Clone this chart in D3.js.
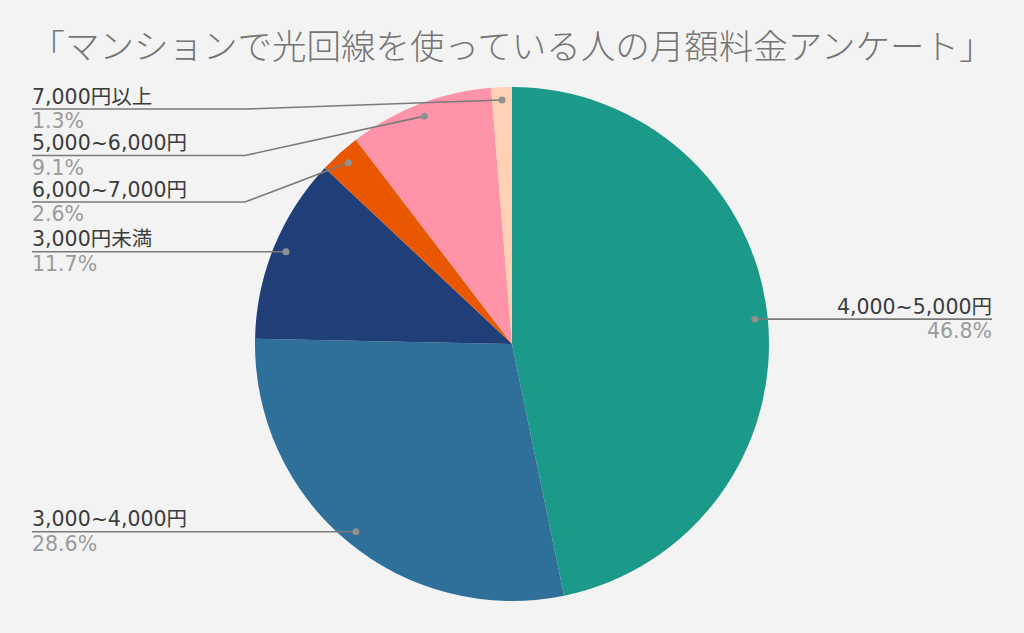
<!DOCTYPE html>
<html lang="ja">
<head>
<meta charset="utf-8">
<script src="https://cdn.jsdelivr.net/npm/d3@7"></script>
<style>
  html, body { margin: 0; padding: 0; background: #f3f3f3; }
  svg { display: block; }
</style>
</head>
<body>
<svg id="chart" width="1024" height="633"></svg>
<script>
// Monthly fibre-line fee survey, apartment residents (%)
const categories = ["4,000~5,000円", "3,000~4,000円", "3,000円未満", "6,000~7,000円", "5,000~6,000円", "7,000円以上"];
const shares     = [46.8, 28.6, 11.7, 2.6, 9.1, 1.3];
const colors     = ["#1b9a8a", "#2e7099", "#203f78", "#e95700", "#ff94a9", "#ffd0b4"];
const title      = "「マンションで光回線を使っている人の月額料金アンケート」";

const W = 1024, H = 633;
const cx = 512, cy = 344, R = 257;
const svg = d3.select("#chart");

svg.append("rect").attr("width", W).attr("height", H).attr("fill", "#f3f3f3");

svg.append("text")
  .attr("x", 512).attr("y", 59)
  .attr("text-anchor", "middle")
  .attr("font-family", "'Noto Sans CJK JP', sans-serif")
  .attr("font-weight", 300)
  .attr("font-size", 34.5)
  .attr("fill", "#757575")
  .text(title);

const data = categories.map((c, i) => ({ name: c, value: shares[i], color: colors[i] }));

const pie = d3.pie().value(d => d.value).sort(null);
const arcs = pie(data);
const arc = d3.arc().innerRadius(0).outerRadius(R);
const dotArc = d3.arc().innerRadius(R * 0.95).outerRadius(R * 0.95);

const g = svg.append("g").attr("transform", `translate(${cx},${cy})`);
g.selectAll("path.slice")
  .data(arcs)
  .join("path")
  .attr("class", "slice")
  .attr("d", arc)
  .attr("fill", d => d.data.color);

// Leader-label layout: right side labels end at the right margin,
// left side labels are stacked top-down so they never overlap.
const leftX = 32, rightX = 992, elbowX = 245, spacing = 46.5, topY = 109;
const items = arcs.map(a => {
  const [x, y] = dotArc.centroid(a);
  const mid = (a.startAngle + a.endAngle) / 2;
  return { a, dx: cx + x, dy: cy + y, right: mid < Math.PI };
});

const left = items.filter(d => !d.right).sort((p, q) => p.dy - q.dy);
let prev = topY - spacing;
left.forEach(d => { d.ly = Math.max(d.dy, prev + spacing); prev = d.ly; });
items.filter(d => d.right).forEach(d => { d.ly = d.dy; });

const lab = svg.append("g");
items.forEach(d => {
  let pts;
  if (d.right) {
    pts = [[d.dx, d.dy], [rightX, d.ly]];
  } else if (Math.abs(d.ly - d.dy) < 1) {
    pts = [[d.dx, d.dy], [leftX, d.ly]];
  } else {
    pts = [[d.dx, d.dy], [elbowX, d.ly], [leftX, d.ly]];
  }
  lab.append("path")
    .attr("d", d3.line()(pts))
    .attr("fill", "none")
    .attr("stroke", "#7a7a7a")
    .attr("stroke-width", 1.6);
  lab.append("circle")
    .attr("cx", d.dx).attr("cy", d.dy).attr("r", 3.5)
    .attr("fill", "#909090");

  const tx = d.right ? rightX : leftX;
  const anchor = d.right ? "end" : "start";
  lab.append("text")
    .attr("x", tx).attr("y", d.ly - 5.5)
    .attr("text-anchor", anchor)
    .attr("font-family", "'DejaVu Sans', 'Noto Sans CJK JP', sans-serif")
    .attr("font-size", 20.5)
    .attr("fill", "#3c3c3c")
    .text(d.a.data.name);
  lab.append("text")
    .attr("x", tx).attr("y", d.ly + 19)
    .attr("text-anchor", anchor)
    .attr("font-family", "'DejaVu Sans', sans-serif")
    .attr("font-size", 20.5)
    .attr("fill", "#9a9a9a")
    .text(d3.format(".1f")(d.a.data.value) + "%");
});
</script>
</body>
</html>
